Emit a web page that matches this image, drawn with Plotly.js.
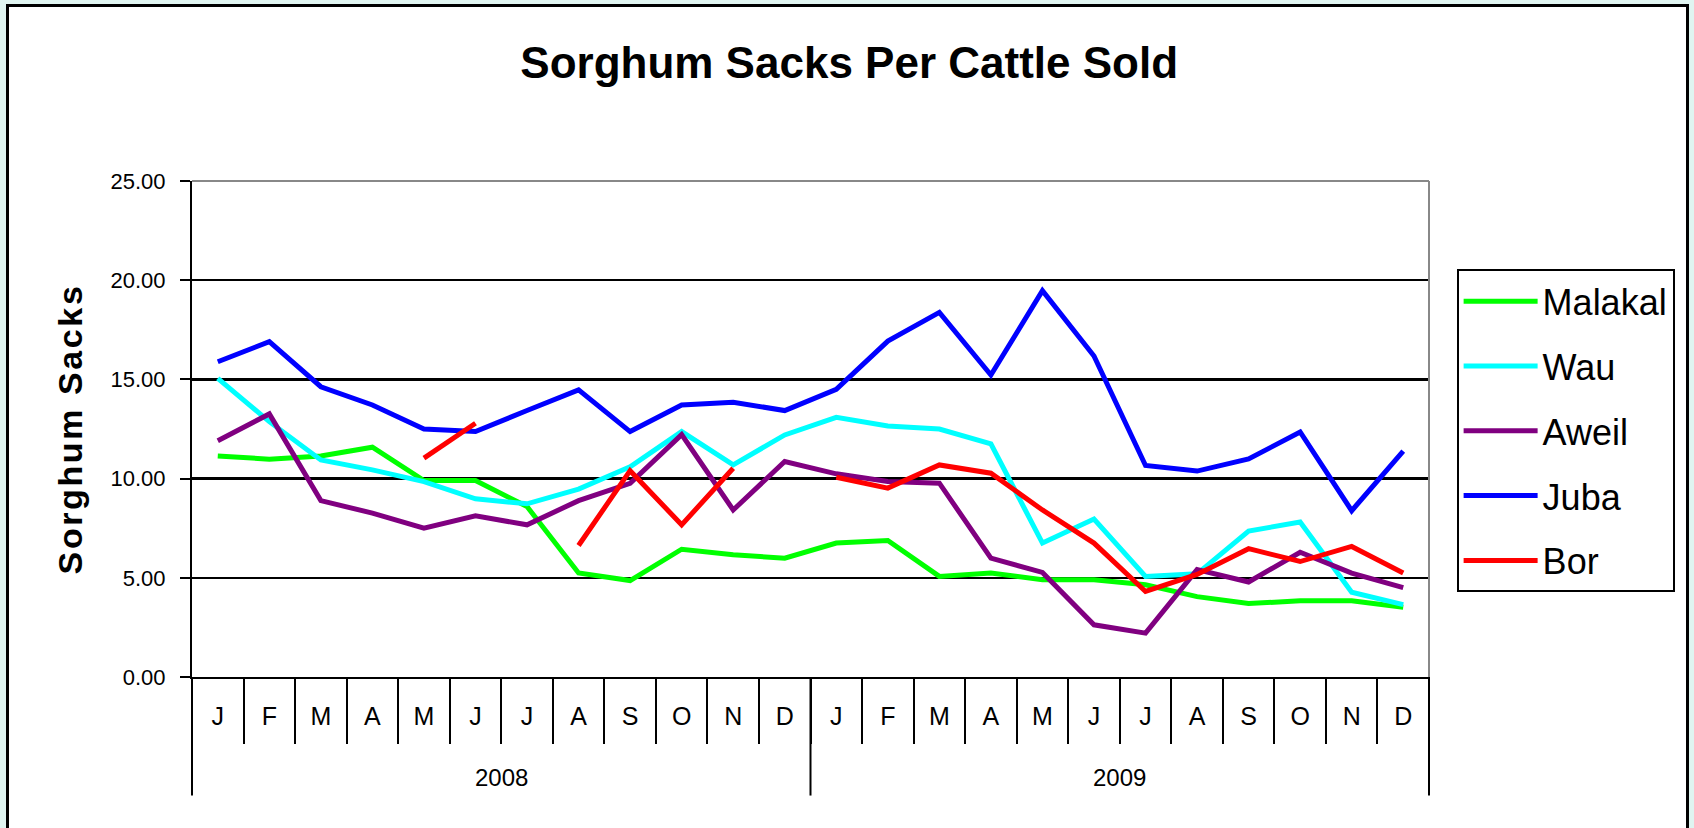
<!DOCTYPE html>
<html>
<head>
<meta charset="utf-8">
<script src="https://cdn.plot.ly/plotly-3.0.1.min.js"></script>
<style>
  html, body { margin: 0; padding: 0; background: #e0f5f1; width: 1694px; height: 828px; overflow: hidden; }
  #frame { position: absolute; left: 6px; top: 4px; width: 1677px; height: 900px; border: 3px solid #000; background: #fff; }
  #chart { width: 1677px; height: 821px; }
  .ytitle { letter-spacing: 2.6px; }
</style>
</head>
<body>
<div id="frame"><div id="chart"></div></div>
<script>
// ---- data ----
const years = ['2008', '2009'];
const monthLetters = ['J','F','M','A','M','J','J','A','S','O','N','D'];
const seriesNames = ['Malakal', 'Wau', 'Aweil', 'Juba', 'Bor'];
const seriesColors = ['#00ff00', '#00ffff', '#800080', '#0000ff', '#ff0000'];

const malakal = [11.14, 10.98, 11.14, 11.58, 9.90, 9.90, 8.59, 5.24, 4.86, 6.44, 6.16, 5.99,
                 6.75, 6.88, 5.07, 5.24, 4.90, 4.90, 4.65, 4.05, 3.70, 3.84, 3.84, 3.52];
const wau     = [15.05, 12.87, 10.94, 10.44, 9.85, 8.98, 8.73, 9.47, 10.60, 12.37, 10.69, 12.20,
                 13.09, 12.65, 12.50, 11.75, 6.75, 7.96, 5.07, 5.20, 7.36, 7.81, 4.27, 3.65];
const aweil   = [11.91, 13.26, 8.89, 8.26, 7.50, 8.12, 7.67, 8.89, 9.76, 12.22, 8.42, 10.86,
                 10.24, 9.85, 9.77, 5.99, 5.27, 2.63, 2.21, 5.41, 4.79, 6.29, 5.24, 4.50];
const juba    = [15.89, 16.90, 14.63, 13.71, 12.50, 12.37, 13.43, 14.47, 12.37, 13.71, 13.85, 13.43,
                 14.50, 16.93, 18.38, 15.22, 19.47, 16.18, 10.66, 10.38, 10.99, 12.35, 8.38, 11.38];
const bor     = [null, null, null, null, 11.03, 12.79, null, 6.63, 10.40, 7.67, 10.52, null,
                 10.07, 9.52, 10.69, 10.27, 8.42, 6.75, 4.31, 5.17, 6.47, 5.82, 6.58, 5.24];
const seriesValues = [malakal, wau, aweil, juba, bor];

const yTickVals = [0, 5, 10, 15, 20, 25];

// ---- derived ----
const xIdx = [];
const xText = [];
years.forEach((y, yi) => monthLetters.forEach((m, mi) => { xIdx.push(yi * 12 + mi); xText.push(m); }));
const boundaries = [];
for (let i = 0; i <= xIdx.length; i++) boundaries.push(i - 0.5);

const font = 'Liberation Sans, Arial, sans-serif';

const traces = seriesNames.map((name, i) => ({
  type: 'scatter', mode: 'lines', name: name,
  x: xIdx, y: seriesValues[i],
  line: { color: seriesColors[i], width: 5 },
  connectgaps: false,
  legendgroup: name,
  hoverinfo: 'x+y+name'
}));

const shapes = [
  // gray top and right plot border
  { type: 'line', xref: 'paper', yref: 'paper', x0: 0, x1: 1, y0: 1, y1: 1, line: { color: '#888', width: 2 } },
  { type: 'line', xref: 'paper', yref: 'paper', x0: 1, x1: 1, y0: 0, y1: 1, line: { color: '#888', width: 2 } }
];
// year separators
for (let k = 0; k <= years.length; k++) {
  shapes.push({ type: 'line', xref: 'paper', yref: 'paper', x0: k / years.length, x1: k / years.length,
                y0: 0, y1: -0.239, line: { color: '#000', width: 2 } });
}
const annotations = years.map((y, yi) => ({
  text: y, xref: 'x', yref: 'paper', x: yi * 12 + 5.5, y: -0.203, yanchor: 'middle',
  showarrow: false, font: { family: font, size: 24, color: '#000' }
}));

const layout = {
  width: 1677, height: 821,
  margin: { l: 183, r: 256, t: 174, b: 151 },
  paper_bgcolor: '#ffffff', plot_bgcolor: '#ffffff',
  font: { family: font, color: '#000' },
  title: { text: '<b>Sorghum Sacks Per Cattle Sold</b>', font: { family: font, size: 44, color: '#000' },
           xref: 'container', yref: 'container', x: 0.501, y: 0.932, xanchor: 'center', yanchor: 'middle' },
  xaxis: {
    type: 'linear', range: [-0.5, 23.5], fixedrange: true,
    tickmode: 'array', tickvals: xIdx, ticktext: xText,
    ticks: '', showgrid: false, zeroline: false,
    showline: true, linecolor: '#000', linewidth: 2,
    tickfont: { family: font, size: 25, color: '#000' },
    ticklabelstandoff: 16,
    minor: { tickmode: 'array', tickvals: boundaries, ticks: 'outside', ticklen: 65, tickwidth: 2, tickcolor: '#000', showgrid: false }
  },
  yaxis: {
    range: [0, 25], fixedrange: true,
    tickmode: 'array', tickvals: yTickVals, tickformat: '.2f',
    ticks: 'outside', ticklen: 10, tickwidth: 2, tickcolor: '#000',
    showgrid: true, gridcolor: '#000', gridwidth: 2.5, zeroline: false,
    showline: true, linecolor: '#000', linewidth: 2,
    tickfont: { family: font, size: 22, color: '#000' },
    ticklabelstandoff: 10,
    title: { text: '<b>Sorghum Sacks</b>', font: { family: font, size: 34, color: '#000' }, standoff: 18 }
  },
  legend: {
    x: 1.0215, y: 0.822, xanchor: 'left', yanchor: 'top',
    bgcolor: '#fff', bordercolor: '#000', borderwidth: 2,
    font: { family: font, size: 36, color: '#000' },
    tracegroupgap: 15, itemwidth: 74, traceorder: 'grouped'
  },
  shapes: shapes,
  annotations: annotations,
  showlegend: true
};

Plotly.newPlot('chart', traces, layout, { displayModeBar: false, staticPlot: true });
</script>
</body>
</html>
